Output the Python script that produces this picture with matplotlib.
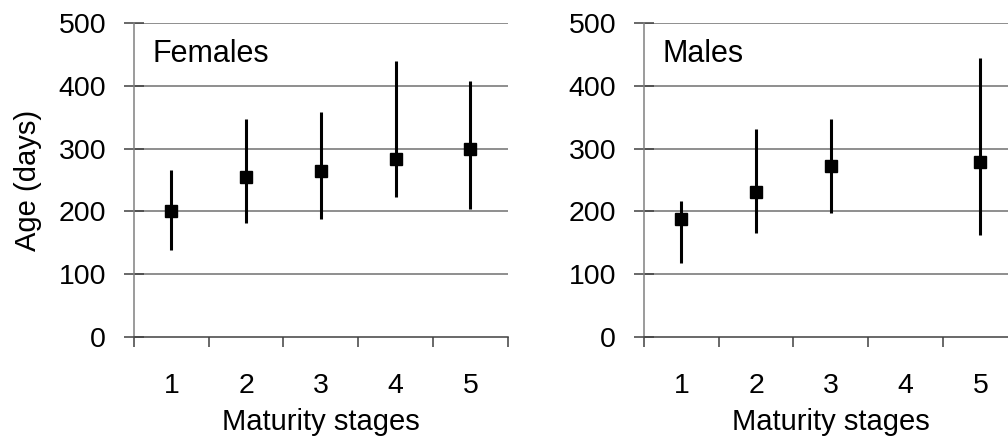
import matplotlib
matplotlib.use("Agg")
import matplotlib.pyplot as plt
import numpy as np

plt.rcParams['font.family'] = ['Liberation Sans', 'DejaVu Sans']

stages = [1, 2, 3, 4, 5]
stage_labels = ["1", "2", "3", "4", "5"]

fem_mean = [201, 255, 265, 283, 299]
fem_low = [138, 182, 188, 223, 204]
fem_high = [266, 348, 358, 440, 408]

male_stages = [1, 2, 3, 5]
male_mean = [187, 231, 272, 279]
male_low = [118, 165, 197, 162]
male_high = [217, 331, 347, 444]

yticks = [0, 100, 200, 300, 400, 500]

fig = plt.figure(figsize=(10.08, 4.43), dpi=100)

W, H = 1008, 443
def pos(x0, x1, y0, y1):
    return [x0 / W, 1 - y1 / H, (x1 - x0) / W, (y1 - y0) / H]

ax1 = fig.add_axes(pos(134, 507.7, 23.3, 336.7))
ax2 = fig.add_axes(pos(644, 1017.7, 23.3, 336.7))

FS = 20.5

def draw(ax, xs, mean, low, high, title, ylabel=None):
    xs = np.array(xs, dtype=float)
    mean = np.array(mean, dtype=float)
    yerr = [mean - np.array(low), np.array(high) - mean]
    ax.set_xlim(0.5, 5.5)
    ax.set_ylim(0, 500)
    for y in yticks[1:]:
        ax.axhline(y, color='#707070', lw=1.1, zorder=1)
    ax.errorbar(xs, mean, yerr=yerr, fmt='none', ecolor='black', elinewidth=2.2,
                capsize=0, zorder=3)
    ax.plot(xs, mean, 's', color='black', markersize=9, zorder=4)
    for s in ['top', 'right']:
        ax.spines[s].set_visible(False)
    ax.spines['left'].set_color('#808080')
    ax.spines['left'].set_linewidth(1.1)
    ax.spines['bottom'].set_color('#404040')
    ax.spines['bottom'].set_linewidth(1.1)
    ax.set_yticks(yticks)
    ax.set_yticklabels([str(v) for v in yticks], fontsize=FS)
    ax.tick_params(axis='y', direction='inout', length=14, width=1.1, color='#404040', pad=13)
    ax.set_xticks([0.5, 1.5, 2.5, 3.5, 4.5, 5.5])
    ax.set_xticklabels([])
    ax.set_xticks(stages, minor=True)
    ax.set_xticklabels(stage_labels, minor=True, fontsize=FS)
    ax.tick_params(axis='x', which='major', direction='out', length=7, width=1.1, color='#404040')
    ax.tick_params(axis='x', which='minor', length=0, pad=26)
    ax.set_xlabel("Maturity stages", fontsize=FS + 0.5, va='top')
    ax.xaxis.set_label_coords(0.5, -0.228)
    if ylabel:
        ax.set_ylabel(ylabel, fontsize=FS + 0.5)
        ax.yaxis.set_label_coords(-0.247, 0.5)
    ax.text(0.05, 0.95, title, transform=ax.transAxes, fontsize=FS + 1.5,
            ha='left', va='top')

draw(ax1, stages, fem_mean, fem_low, fem_high, "Females", ylabel="Age (days)")
draw(ax2, male_stages, male_mean, male_low, male_high, "Males")

fig.savefig("out.png", dpi=100)
